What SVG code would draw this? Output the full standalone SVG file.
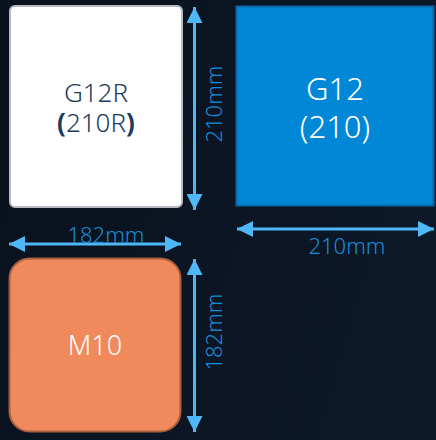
<svg xmlns="http://www.w3.org/2000/svg" width="436" height="440" viewBox="0 0 436 440">
  <defs>
    <linearGradient id="bg" x1="0" y1="0" x2="1" y2="0.3">
      <stop offset="0" stop-color="#09111c"/>
      <stop offset="1" stop-color="#0d1828"/>
    </linearGradient>
    <marker id="ah" viewBox="0 0 16 16" refX="16" refY="8" markerWidth="16" markerHeight="16" markerUnits="userSpaceOnUse" orient="auto-start-reverse">
      <path d="M0,0 L16,8 L0,16 Z" fill="#4db8f5"/>
    </marker>
    <style>
      .lbl { font-family: "Noto Sans", "DejaVu Sans", sans-serif; text-anchor: middle; font-weight: 300; }
      .dim { font-family: "Noto Sans", "DejaVu Sans", sans-serif; font-size: 22px; font-weight: 300; fill: #1a8cd6; text-anchor: middle; }
      .arr { stroke: #4db8f5; stroke-width: 3; fill: none; marker-start: url(#ah); marker-end: url(#ah); }
    </style>
  </defs>
  <rect x="0" y="0" width="436" height="440" fill="url(#bg)"/>

  <g id="g12r">
    <rect x="10" y="6" width="172" height="201" rx="5" fill="#ffffff" stroke="#b8bcc2" stroke-width="2"/>
    <text class="lbl" x="96" y="102" font-size="26" fill="#1e3a5c">G12R</text>
    <text class="lbl" x="96" y="132" font-size="26" fill="#1e3a5c"><tspan font-weight="bold">(</tspan>210R<tspan font-weight="bold">)</tspan></text>
  </g>

  <g id="g12">
    <rect x="236.5" y="6.5" width="197" height="199" fill="#0088d6" stroke="#0a68a8" stroke-width="2"/>
    <text class="lbl" x="335" y="100" font-size="31" fill="#ffffff">G12</text>
    <text class="lbl" x="335" y="138" font-size="31" fill="#ffffff">(210)</text>
  </g>

  <g id="m10">
    <rect x="9.5" y="258.5" width="171" height="173" rx="20" fill="#f0895c" stroke="#a85e3e" stroke-width="2"/>
    <text class="lbl" x="95" y="355" font-size="27" fill="#ffffff">M10</text>
  </g>

  <g id="connectors">
    <line class="arr" x1="194.5" y1="7" x2="194.5" y2="210"/>
    <line class="arr" x1="237" y1="229" x2="434" y2="229"/>
    <line class="arr" x1="9" y1="244" x2="181" y2="244"/>
    <line class="arr" x1="194.5" y1="259" x2="194.5" y2="432"/>
  </g>

  <g id="labels">
    <text class="dim" transform="translate(222,104) rotate(-90)">210mm</text>
    <text class="dim" x="347" y="254">210mm</text>
    <text class="dim" x="106" y="243">182mm</text>
    <text class="dim" transform="translate(222,332) rotate(-90)">182mm</text>
  </g>
</svg>
